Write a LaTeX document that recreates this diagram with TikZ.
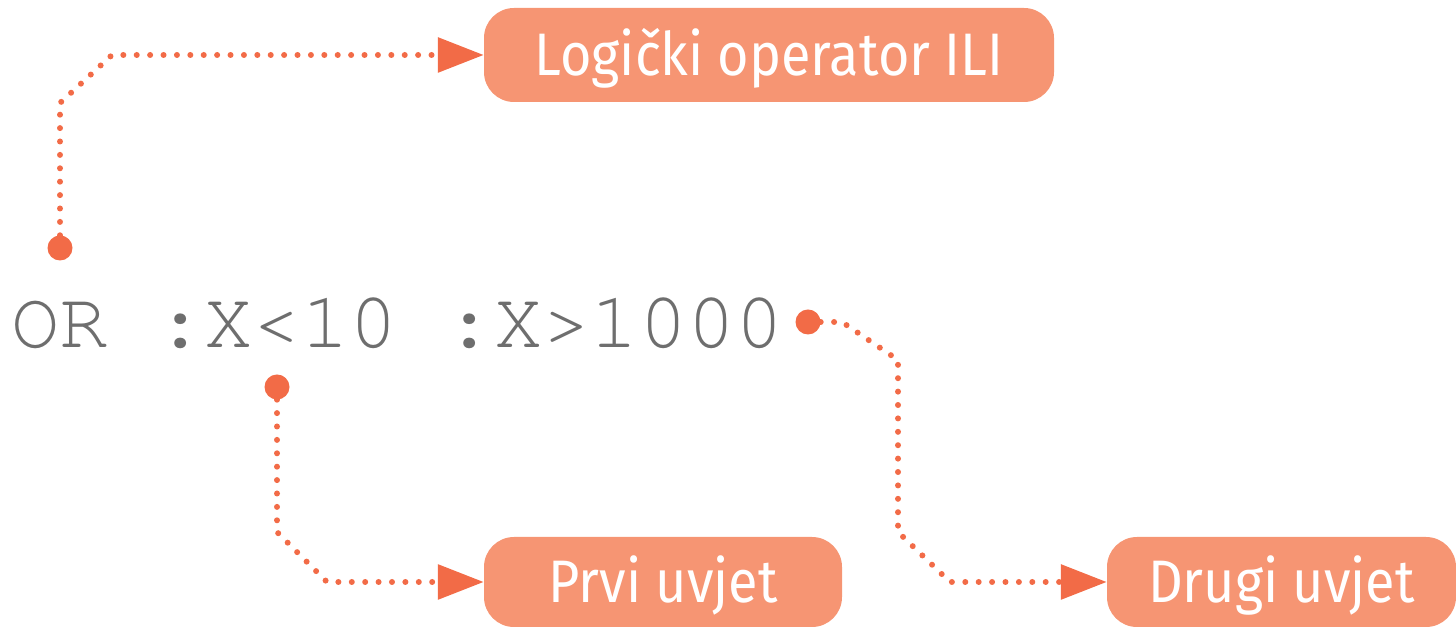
\documentclass[tikz,border=0pt]{standalone}
\usepackage{fontspec}
\setmainfont{Fira Sans}[FakeStretch=0.9]
\newfontfamily\codefont{TeX Gyre Cursor}
\usetikzlibrary{arrows.meta}

\definecolor{boxfill}{HTML}{F69573}
\definecolor{linkcol}{HTML}{F26B47}
\definecolor{codegray}{HTML}{6E6E6E}

\tikzset{
  label box/.style={fill=boxfill, rounded corners=30pt, inner sep=0pt,
    text=white, font=\fontsize{60}{60}\selectfont,
    text height=41pt, text depth=0pt},
  pin dot/.style={circle, fill=linkcol, inner sep=0pt, minimum size=25pt},
  link/.style={draw=linkcol, line width=6pt, line cap=round,
    dash pattern=on 0pt off 13.4pt,
    -{Triangle[length=46pt, width=34pt]}},
}

\begin{document}
\begin{tikzpicture}[x=1pt, y=1pt]
  \useasboundingbox (0,0) rectangle (1456,628);

  % labels
  \node[label box, minimum width=570pt, minimum height=94pt] (top) at (769,573) {Logički operator ILI};
  \node[label box, minimum width=358pt, minimum height=90pt] (prvi) at (663,46) {Prvi uvjet};
  \node[label box, minimum width=349pt, minimum height=90pt] (drugi) at (1281.5,46) {Drugi uvjet};

  % the command
  \node[anchor=base west, inner sep=0pt, text=codegray,
        font=\codefont\fontsize{80.5}{80.5}\selectfont] (code) at (11,280)
        {OR :X<10 :X>1000};

  % pins on the command
  \node[pin dot] (d1) at (60,380) {};
  \node[pin dot] (d2) at (277,241) {};
  \node[pin dot] (d3) at (808,306) {};

  % dotted leaders
  \draw[link] (d1.north) -- (60,525) -- (112,0 |- top.west) -- (top.west);
  \draw[link] (d2.south) -- (277,96) -- (327,0 |- prvi.west) -- (prvi.west);
  \draw[link] (d3.east) -- (842,306) -- (898,268) -- (898,96) -- (950,0 |- drugi.west) -- (drugi.west);
\end{tikzpicture}
\end{document}
